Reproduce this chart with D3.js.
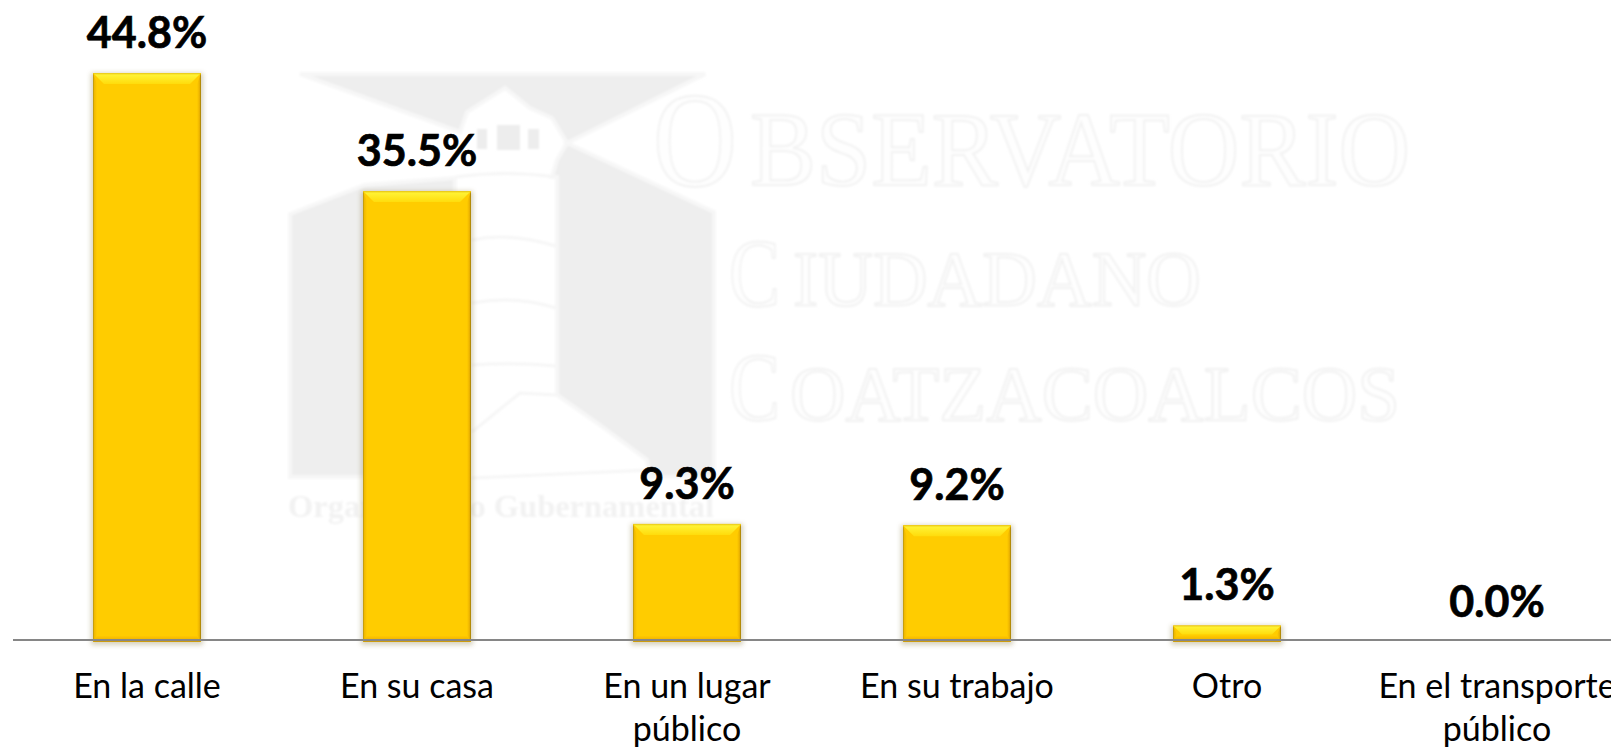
<!DOCTYPE html>
<html lang="es">
<head>
<meta charset="utf-8">
<title>Lugar</title>
<script src="https://cdn.jsdelivr.net/npm/d3@7"></script>
<style>
html,body{margin:0;padding:0;background:#fff;overflow:hidden}
svg{display:block}
.cat{font-family:Lato,"Open Sans",sans-serif;font-size:34px;fill:#000}
.val{font-family:Lato,"Open Sans",sans-serif;font-size:43px;font-weight:700;fill:#000;stroke:#000;stroke-width:.7;text-anchor:middle}
.wm{font-family:"Liberation Serif",serif;fill:#fefefe;stroke:#f2f2f2;stroke-width:2}
</style>
</head>
<body>
<svg id="chart" width="1611" height="750"></svg>
<script>
const categories = ["En la calle","En su casa","En un lugar público","En su trabajo","Otro","En el transporte público"];
const values = [44.8,35.5,9.3,9.2,1.3,0.0];
const valueLabels = ["44.8%","35.5%","9.3%","9.2%","1.3%","0.0%"];

const svg = d3.select("#chart");
const x = d3.scaleBand().domain(categories).range([12,1632]).paddingInner(0.6).paddingOuter(0.3);
const y = d3.scaleLinear().domain([0,44.8]).range([642,73]);

/* defs */
const defs = svg.append("defs");
function grad(id,x2,y2,stops){
  const g = defs.append("linearGradient").attr("id",id).attr("x1",0).attr("y1",0).attr("x2",x2).attr("y2",y2);
  stops.forEach(s=>g.append("stop").attr("offset",s[0]).attr("stop-color",s[1]));
}
grad("bTop",0,1,[[0,"#e6c414"],[0.18,"#fff233"],[1,"#ffdc0c"]]);
grad("bBot",0,1,[[0,"#ffc800"],[0.7,"#eeb200"],[1,"#c09410"]]);
grad("bLeft",1,0,[[0,"#a88c14"],[0.3,"#f0b800"],[1,"#ffcc00"]]);
grad("bRight",1,0,[[0,"#ffcc00"],[0.6,"#eeb400"],[1,"#98780a"]]);
defs.append("filter").attr("id","soft").attr("x","-20%").attr("y","-20%").attr("width","140%").attr("height","140%")
  .append("feGaussianBlur").attr("stdDeviation",2.5);
defs.append("filter").attr("id","wmBlur").append("feGaussianBlur").attr("stdDeviation",0.8);

/* watermark */
const wm = svg.append("g").attr("class","watermark");
const shapes = wm.append("g").attr("filter","url(#wmBlur)");
const wmGray = [
  "M300,74 L705,74 L567,143 L557,160 L552,177 L557,177 L557,395 L600,425 L647,460 L650,477 L714,477 L714,212 L567,143 L705,74 Z",
  "M300,74 L460,132 L467,112 L505,88 L530,108 L552,118 L567,143 L705,74 Z",
  "M290,214 L365,185 L455,178 L455,477 L290,477 Z"
];
shapes.selectAll("path.g").data(wmGray).join("path").attr("class","g")
  .attr("d",d=>d).attr("fill","#eeeeee").attr("stroke","#f7f7f7").attr("stroke-width",4);
shapes.selectAll("rect.win").data([[477,129,10,20],[497,125,23,25],[528,129,11,20]]).join("rect")
  .attr("class","win").attr("x",d=>d[0]).attr("y",d=>d[1]).attr("width",d=>d[2]).attr("height",d=>d[3]).attr("fill","#ededed");
shapes.selectAll("path.band").data([
  "M456,177 Q505,170 556,177","M472,240 Q510,232 556,246","M472,303 Q515,295 556,308","M472,365 Q515,362 556,366",
  "M472,432 L520,393 L556,395","M472,478 L650,470"
]).join("path").attr("class","band").attr("d",d=>d).attr("fill","none").attr("stroke","#f6f6f6").attr("stroke-width",3);

const wmTexts = [
  ["O",653,186,136,84],["BSERVATORIO",750,185,106,660],
  ["C",729,306,98,51],["IUDADANO",793,305,79,408],
  ["C",729,420,98,51],["OATZACOALCOS",790,420,79,610]
];
wm.append("g").attr("filter","url(#wmBlur)").selectAll("text").data(wmTexts).join("text").attr("class","wm")
  .attr("x",d=>d[1]).attr("y",d=>d[2]).attr("font-size",d=>d[3])
  .attr("textLength",d=>d[4]).attr("lengthAdjust","spacingAndGlyphs").text(d=>d[0]);
wm.append("text").attr("x",288).attr("y",517).attr("textLength",426).attr("lengthAdjust","spacingAndGlyphs")
  .attr("font-family","Liberation Serif").attr("font-weight",700).attr("font-size",31).attr("fill","#f2f2f2")
  .attr("filter","url(#wmBlur)").text("Organismo no Gubernamental");

/* bars */
const bars = svg.append("g").selectAll("g").data(categories.map((c,i)=>({c,v:values[i]})).filter(d=>d.v>0)).join("g");
const L = d=>x(d.c), R = d=>x(d.c)+x.bandwidth(), T = d=>y(d.v), B = ()=>y(0);
const bev = d=>Math.min(11,(B()-T(d))*0.55), bevB = d=>Math.min(6,(B()-T(d))*0.4), bevS = 4;
bars.append("rect").attr("x",d=>L(d)-2).attr("y",d=>T(d)).attr("width",x.bandwidth()+4).attr("height",d=>B()-T(d)+3)
  .attr("fill","#8a7a40").attr("opacity",.35).attr("filter","url(#soft)");
bars.append("rect").attr("x",L).attr("y",T).attr("width",x.bandwidth()).attr("height",d=>B()-T(d)).attr("fill","#ffcc00");
bars.append("path").attr("fill","url(#bLeft)")
  .attr("d",d=>`M${L(d)},${T(d)}L${L(d)+bevS},${T(d)+bev(d)}L${L(d)+bevS},${B()-bevB(d)}L${L(d)},${B()}Z`);
bars.append("path").attr("fill","url(#bRight)")
  .attr("d",d=>`M${R(d)},${T(d)}L${R(d)-bevS},${T(d)+bev(d)}L${R(d)-bevS},${B()-bevB(d)}L${R(d)},${B()}Z`);
bars.append("path").attr("fill","url(#bBot)")
  .attr("d",d=>`M${L(d)},${B()}L${L(d)+bevS},${B()-bevB(d)}L${R(d)-bevS},${B()-bevB(d)}L${R(d)},${B()}Z`);
bars.append("path").attr("fill","url(#bTop)")
  .attr("d",d=>`M${L(d)},${T(d)}L${R(d)},${T(d)}L${R(d)-bev(d)},${T(d)+bev(d)}L${L(d)+bev(d)},${T(d)+bev(d)}Z`);

/* axis */
const axis = svg.append("g").attr("transform",`translate(0,${y(0)-2})`)
  .call(d3.axisBottom(x).tickSize(0).tickPadding(0));
axis.select(".domain").attr("d","M13,0H1611").attr("stroke","#868686").attr("stroke-width",2);
axis.selectAll(".tick text").attr("class","cat").attr("y",0).attr("dy",null).each(function(t){
  const el = d3.select(this), words = t.split(" ");
  el.text(null);
  let line = [], ts = el.append("tspan").attr("x",0).attr("y",58);
  let row = 0;
  words.forEach(w=>{
    line.push(w); ts.text(line.join(" "));
    if (ts.node().getComputedTextLength()>266 && line.length>1){
      line.pop(); ts.text(line.join(" ")); line=[w]; row++;
      ts = el.append("tspan").attr("x",0).attr("y",58+43*row).text(w);
    }
  });
});

/* value labels */
svg.append("g").selectAll("text").data(categories).join("text").attr("class","val")
  .attr("x",c=>x(c)+x.bandwidth()/2).attr("y",(c,i)=>y(values[i])-25).text((c,i)=>valueLabels[i]);
</script>
</body>
</html>
